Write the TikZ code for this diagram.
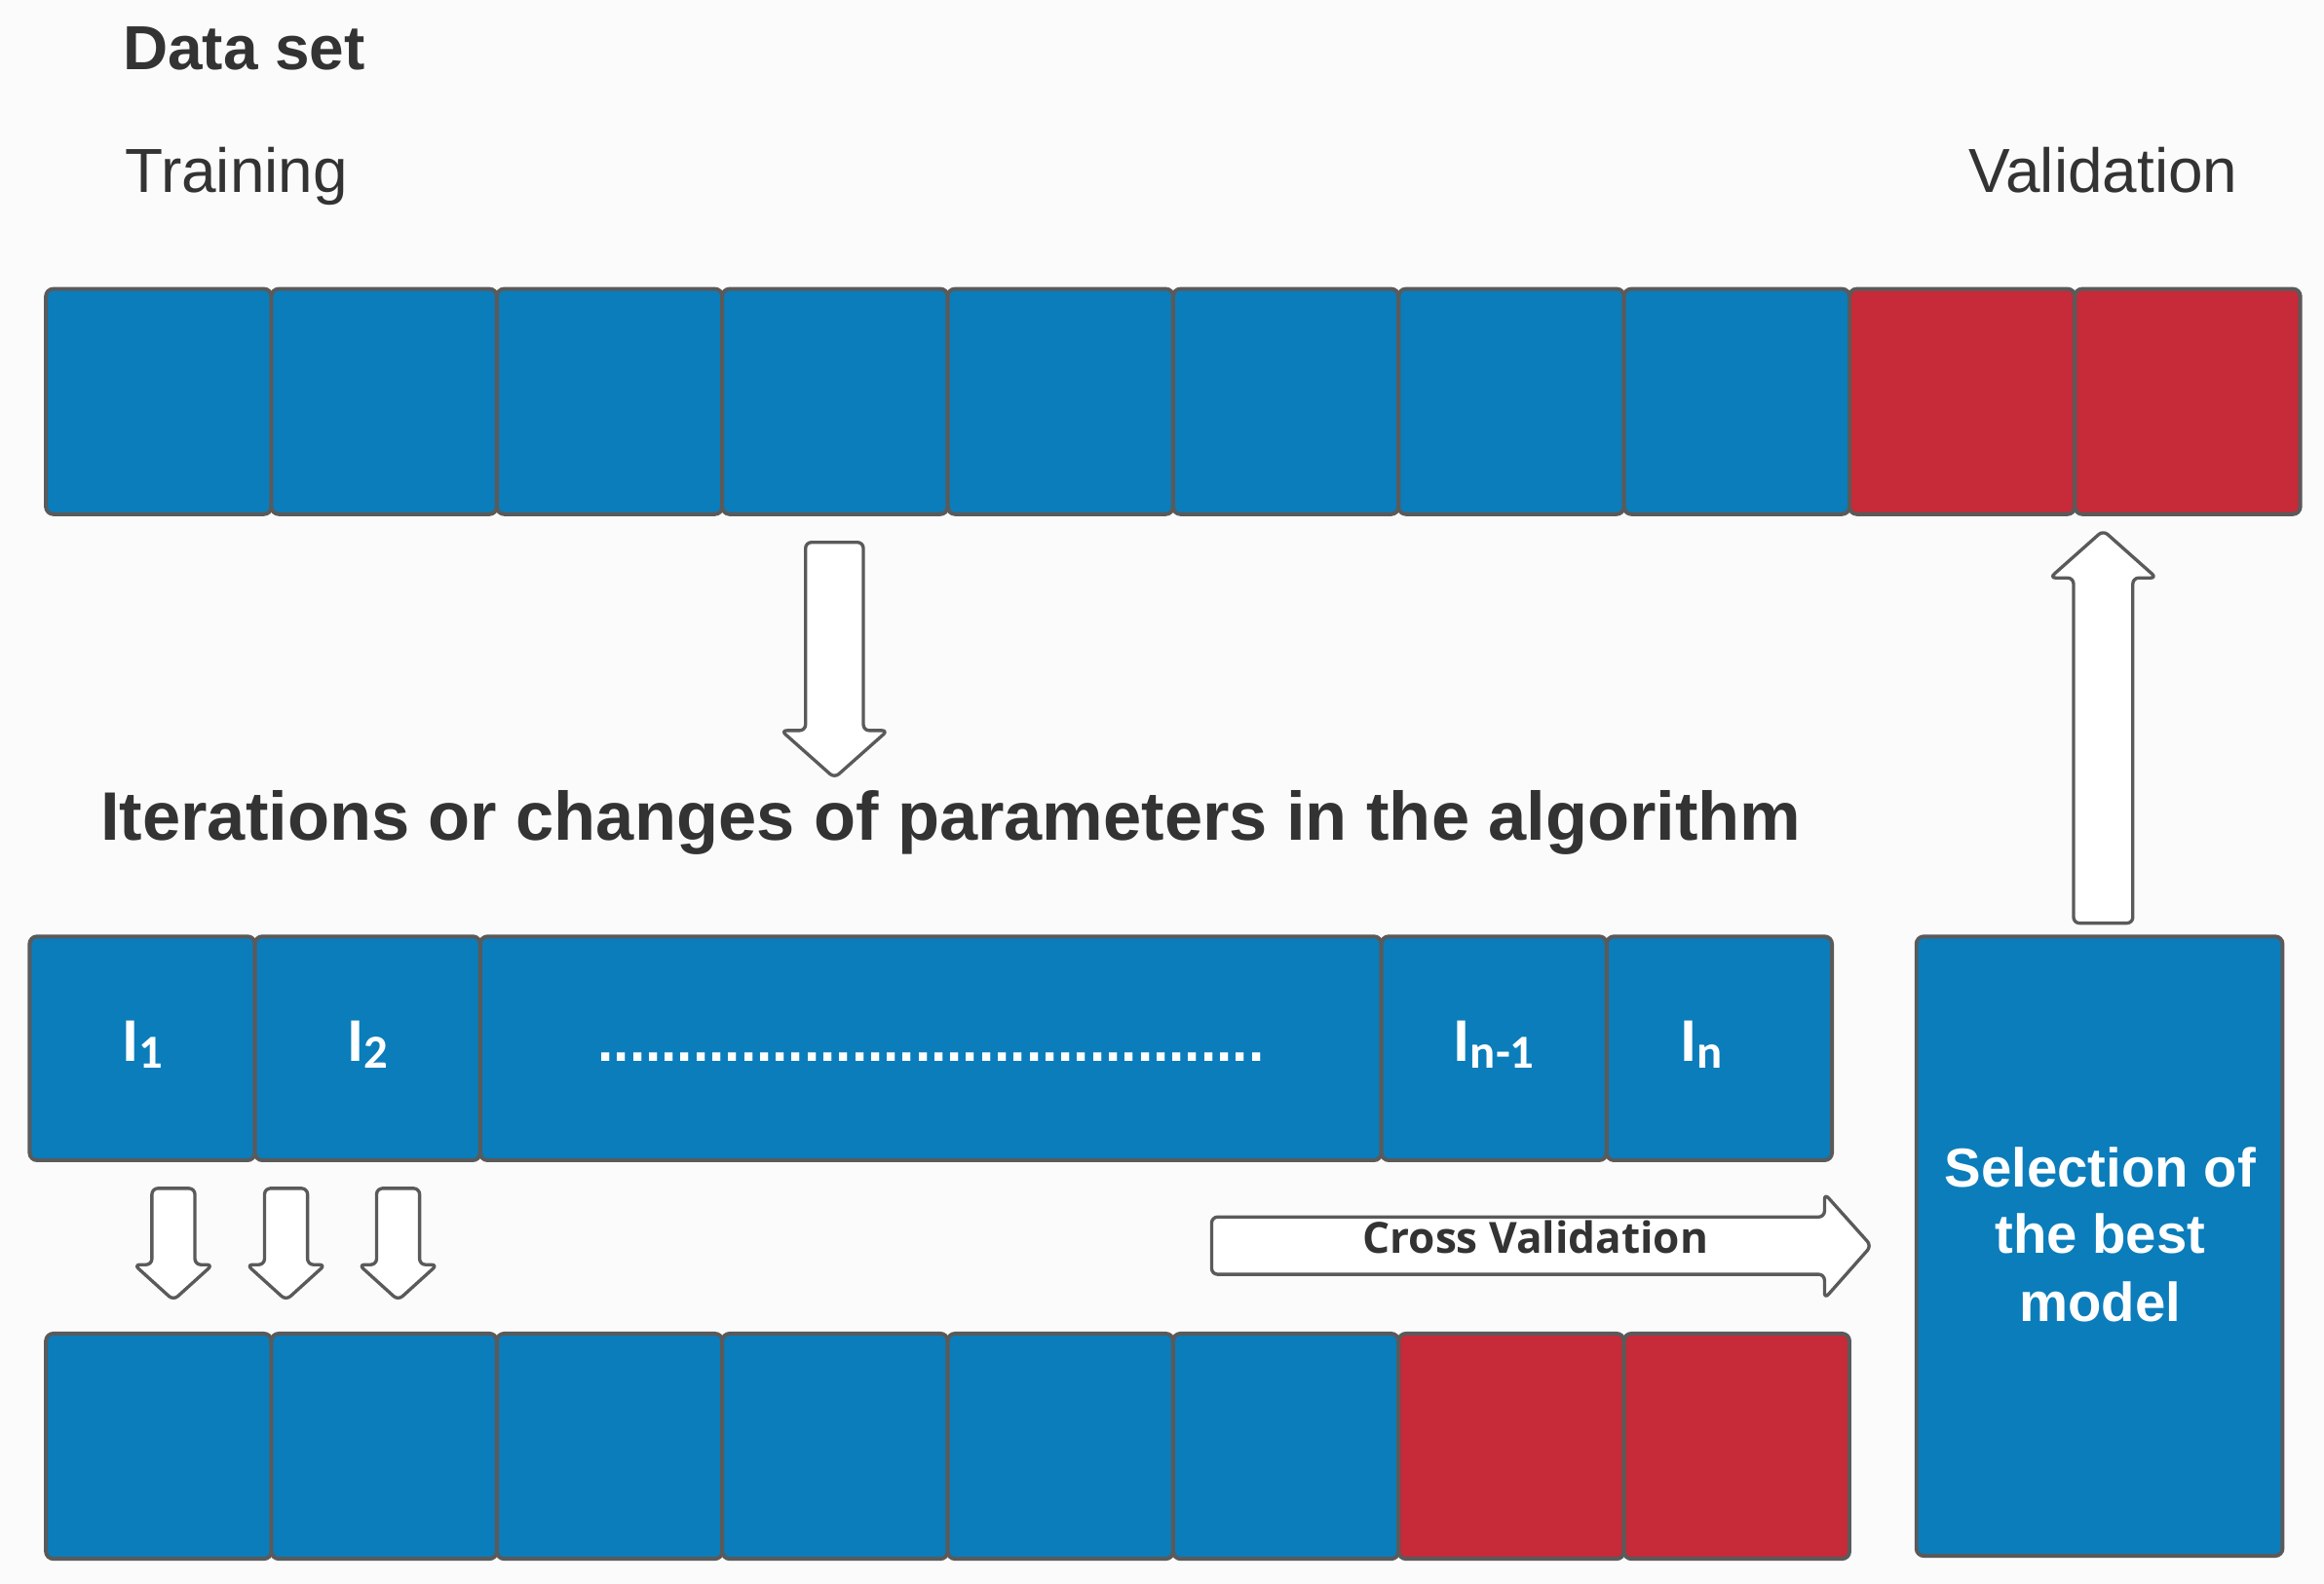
\documentclass[tikz,border=0pt]{standalone}
\usepackage{fontspec}
\setmainfont{Liberation Sans}
\newfontfamily\osans{Open Sans}
\newfontfamily\carl{Carlito}
\definecolor{cblue}{HTML}{0B7DBB}
\definecolor{cred}{HTML}{C72A38}
\definecolor{cedge}{HTML}{5A5A5A}
\definecolor{ctext}{HTML}{333333}
\definecolor{cbg}{HTML}{FBFBFB}
\newcommand\isub[1]{\raisebox{-2.6pt}{\fontsize{16}{18}\selectfont #1}}
\begin{document}
\begin{tikzpicture}[x=0.5pt,y=-0.5pt,
  cell/.style={draw=cedge, line width=1.3pt, rounded corners=2.5pt, inner sep=0pt, outer sep=0pt, anchor=north west, minimum height=76pt},
  bluecell/.style={cell, fill=cblue},
  redcell/.style={cell, fill=cred},
  barrow/.style={draw=cedge, fill=white, line width=1.1pt, rounded corners=2pt, line join=round},
  lbl/.style={inner sep=0pt, text=ctext},
  ilbl/.style={inner sep=0pt, text=white, font=\carl\bfseries\fontsize{21}{25}\selectfont, anchor=base},
  seltxt/.style={inner sep=0pt, text=white, font=\bfseries\fontsize{18.5}{22}\selectfont, anchor=base}
]
\fill[cbg] (0,0) rectangle (1568,1069);
\useasboundingbox (0,0) rectangle (1568,1069);

% texts at top
\node[lbl, anchor=base west, font=\bfseries\fontsize{21}{25}\selectfont] (dataset) at (82.5,47) {Data set};
\node[lbl, anchor=base west, font=\fontsize{21}{25}\selectfont] (training) at (84,130) {Training};
\node[lbl, anchor=base west, font=\fontsize{21}{25}\selectfont] (validation) at (1328,130) {Validation};

% top row
\foreach \i in {0,...,7} {
  \node[bluecell, minimum width=76.05pt] (t\i) at ({31+152.1*\i},195) {};
}
\foreach \i in {8,9} {
  \node[redcell, minimum width=76.05pt] (t\i) at ({31+152.1*\i},195) {};
}

% big down arrow
\draw[barrow] (543.5,366) -- (582.5,366) -- (582.5,493) -- (599,493) -- (563,525) -- (527,493) -- (543.5,493) -- cycle;

% title
\node[lbl, anchor=base west, font=\bfseries\fontsize{23.15}{27}\selectfont] (title) at (67.5,567) {Iterations or changes of parameters in the algorithm};

% middle row
\node[bluecell, minimum width=76pt, minimum height=75.5pt] (m1) at (20,632) {};
\node[bluecell, minimum width=76pt, minimum height=75.5pt] (m2) at (172,632) {};
\node[bluecell, minimum width=304pt, minimum height=75.5pt] (md) at (324,632) {};
\node[bluecell, minimum width=76pt, minimum height=75.5pt] (mn1) at (932,632) {};
\node[bluecell, minimum width=76pt, minimum height=75.5pt] (mn) at (1084,632) {};

\node[ilbl] (l1) at (96,716) {I\isub{1}};
\node[ilbl] (l2) at (248,716) {I\isub{2}};
\node[ilbl, font=\bfseries\fontsize{19.25}{22}\selectfont] (ld) at (628,716) {..........................................};
\node[ilbl] (ln1) at (1008,716) {I\isub{n-1}};
\node[ilbl] (ln) at (1148,716) {I\isub{n}};

% selection box
\node[bluecell, minimum width=123.5pt, minimum height=209pt] (sel) at (1293,632) {};
\node[seltxt] (s1) at (1417,801) {Selection of};
\node[seltxt] (s2) at (1417,846) {the best};
\node[seltxt] (s3) at (1417,892) {model};

% up arrow
\draw[barrow] (1399,623) -- (1399,390) -- (1383,390) -- (1419,358) -- (1455,390) -- (1439,390) -- (1439,623) -- cycle;

% small down arrows
\foreach \c in {117,193,268.6} {
  \draw[barrow] ({\c-14.5},802) -- ({\c+14.5},802) -- ({\c+14.5},853.5) -- ({\c+26.5},853.5) -- (\c,877.5) -- ({\c-26.5},853.5) -- ({\c-14.5},853.5) -- cycle;
}

% cross validation arrow
\draw[barrow] (817.5,821.3) -- (1231,821.3) -- (1231,805.5) -- (1262.6,840.8) -- (1231,876.5) -- (1231,860) -- (817.5,860) -- cycle;
\node[lbl, anchor=base, font=\osans\bfseries\fontsize{14.5}{17}\selectfont] (cv) at (1036,846) {Cross Validation};

% bottom row
\foreach \i in {0,...,5} {
  \node[bluecell, minimum width=76.05pt] (b\i) at ({31+152.1*\i},900) {};
}
\foreach \i in {6,7} {
  \node[redcell, minimum width=76.05pt] (b\i) at ({31+152.1*\i},900) {};
}
\end{tikzpicture}
\end{document}
